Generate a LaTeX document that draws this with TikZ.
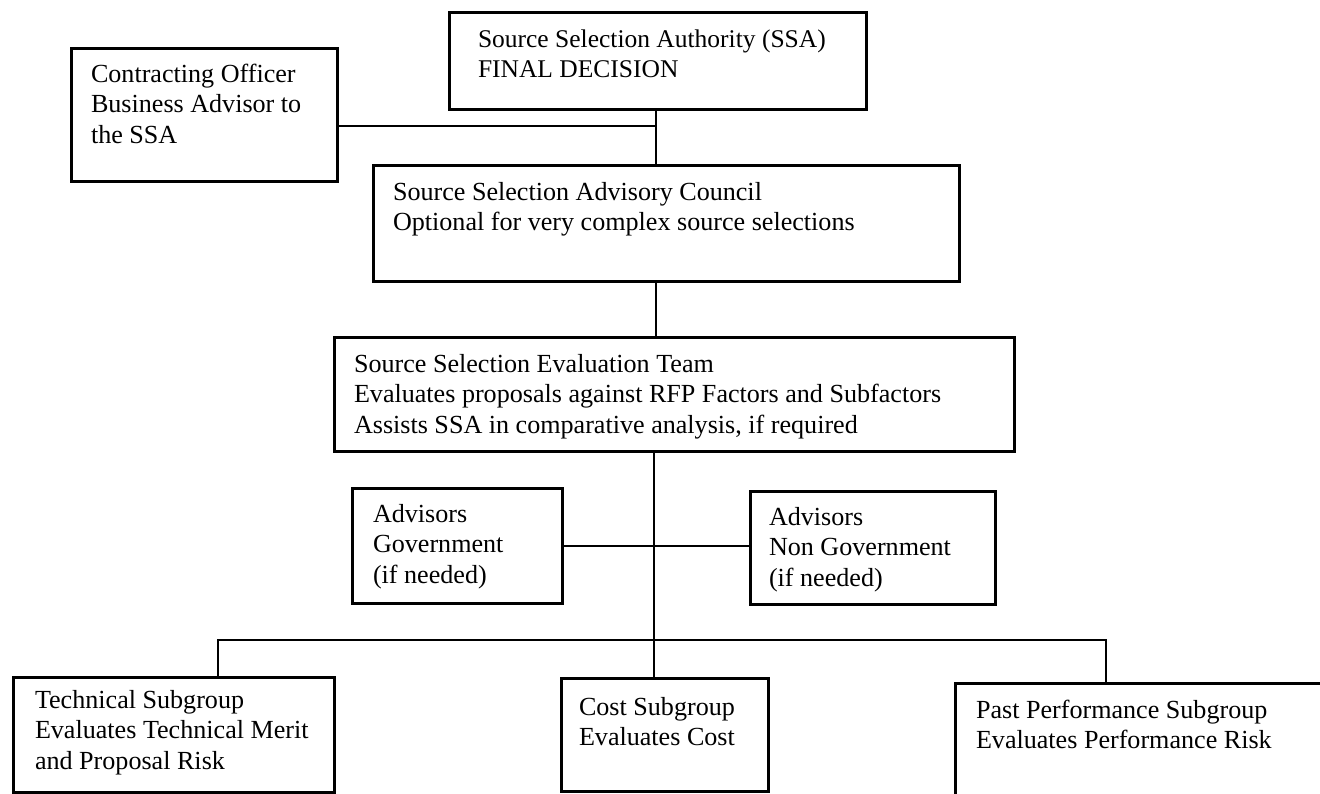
\documentclass[tikz,border=0pt]{standalone}
\usepackage{fontspec}
\setmainfont{Liberation Serif}
\begin{document}
\begin{tikzpicture}[x=1pt,y=-1pt,
  box/.style={draw=black, line width=2.6pt, rectangle, inner sep=0pt, anchor=north west},
  txt/.style={inner sep=0pt, outer sep=0pt, anchor=north west, align=left, font=\fontsize{26.1}{30.5}\selectfont},
  conn/.style={draw=black, line width=2pt}]
\clip (0,0) rectangle (1320,793);
\fill[white] (0,0) rectangle (1320,793);
% boxes
\node[box, minimum width=266pt, minimum height=133pt] (co) at (70,47) {};
\node[box, minimum width=417pt, minimum height=97pt] (ssa) at (448,11) {};
\node[box, minimum width=586pt, minimum height=116pt] (ssac) at (372,164) {};
\node[box, minimum width=680pt, minimum height=114pt] (sset) at (333,336) {};
\node[box, minimum width=210pt, minimum height=115pt] (advg) at (351,487) {};
\node[box, minimum width=245pt, minimum height=113pt] (advn) at (749,490) {};
\node[box, minimum width=321pt, minimum height=115pt] (tech) at (12,676) {};
\node[box, minimum width=207pt, minimum height=113pt] (cost) at (560,677) {};
\node[box, minimum width=400pt, minimum height=140pt] (pp) at (954,682) {};
% texts
\node[txt] (co-t) at (91,82-21.35) {\strut Contracting Officer\\Business Advisor to\\the SSA};
\node[txt, font=\fontsize{25.5}{30.5}\selectfont] (ssa-t) at (478,47-21.35) {\strut Source Selection Authority (SSA)\\FINAL DECISION};
\node[txt] (ssac-t) at (393,200-21.35) {\strut Source Selection Advisory Council\\Optional for very complex source selections};
\node[txt] (sset-t) at (354,372-21.35) {\strut Source Selection Evaluation Team\\Evaluates proposals against RFP Factors and Subfactors\\Assists SSA in comparative analysis, if required};
\node[txt] (advg-t) at (373,522-21.35) {\strut Advisors\\Government\\(if needed)};
\node[txt] (advn-t) at (769,525-21.35) {\strut Advisors\\Non Government\\(if needed)};
\node[txt] (tech-t) at (35,708-21.35) {\strut Technical Subgroup\\Evaluates Technical Merit\\and Proposal Risk};
\node[txt] (cost-t) at (579,715-21.35) {\strut Cost Subgroup\\Evaluates Cost};
\node[txt] (pp-t) at (976,718-21.35) {\strut Past Performance Subgroup\\Evaluates Performance Risk};
% junction coordinates
\coordinate (spine) at (656,0);
\coordinate (trunk) at (654,0);
\coordinate (j1) at (656,126);
\coordinate (advy) at (0,546);
\coordinate (bl) at (218,640);
\coordinate (br) at (1106,640);
% connectors
\draw[conn] (ssa.south -| spine) -- (ssac.north -| spine);
\draw[conn] (co.east |- j1) -- (j1);
\draw[conn] (ssac.south -| spine) -- (sset.north -| spine);
\draw[conn] (sset.south -| trunk) -- (cost.north -| trunk);
\draw[conn] (advg.east |- advy) -- (advn.west |- advy);
\draw[conn] (tech.north -| bl) -- (bl) -- (br) -- (pp.north -| br);
\end{tikzpicture}
\end{document}
